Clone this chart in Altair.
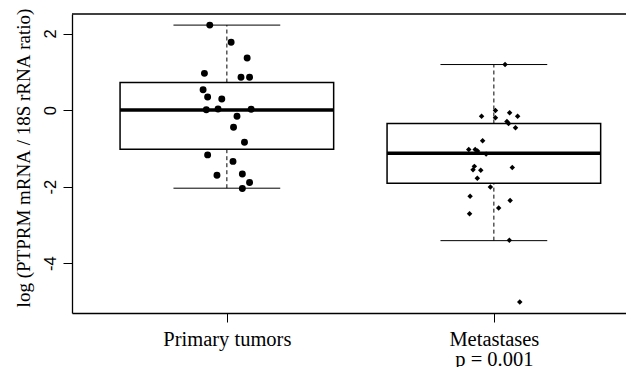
import altair as alt
import pandas as pd

# ---- data ----
groups = ["Primary tumors", "Metastases"]
positions = [1, 2]
lower_whisker = [-2.04, -3.41]
q1 = [-1.02, -1.91]
median = [0.0, -1.13]
q3 = [0.72, -0.35]
upper_whisker = [2.22, 1.19]

primary_values = [2.22, 1.77, 1.36, 0.96, 0.86, 0.86, 0.53, 0.34, 0.29, 0.01, 0.03,
                  0.02, -0.16, -0.45, -0.84, -1.17, -1.34, -1.70, -1.67, -1.89, -2.05]
primary_jitter = [-0.064, 0.016, 0.076, -0.084, 0.053, 0.085, -0.089, -0.072, -0.019,
                  -0.077, -0.033, 0.091, 0.038, 0.025, 0.066, -0.072, 0.023, -0.037,
                  0.058, 0.085, 0.058]

meta_values = [1.19, -0.01, -0.07, -0.16, -0.20, -0.16, -0.30, -0.35, -0.46, -0.80,
               -1.03, -1.03, -1.07, -1.15, -1.47, -1.50, -1.56, -1.57, -1.78, -2.01,
               -2.25, -2.36, -2.56, -2.71, -3.40, -5.01]
meta_jitter = [0.042, 0.006, 0.059, -0.046, 0.006, 0.089, 0.049, 0.055, 0.081, -0.042,
               -0.094, -0.070, -0.061, -0.029, -0.073, 0.069, -0.078, -0.049, -0.062,
               -0.013, -0.089, 0.061, 0.018, -0.091, 0.058, 0.097]

y_ticks = [-4, -2, 0, 2]
y_title = "log (PTPRM mRNA / 18S rRNA ratio)"
p_label = "p = 0.001"

# ---- tables ----
box_df = pd.DataFrame({
    "group": groups, "pos": positions, "lw": lower_whisker, "q1": q1,
    "med": median, "q3": q3, "uw": upper_whisker,
})
pts_df = pd.DataFrame({
    "group": [groups[0]] * len(primary_values) + [groups[1]] * len(meta_values),
    "pos": [positions[0]] * len(primary_values) + [positions[1]] * len(meta_values),
    "jit": primary_jitter + meta_jitter,
    "value": primary_values + meta_values,
})

W, H = 554, 299
xscale = alt.Scale(domain=[0.42, 0.42 + W / 267.0], nice=False, zero=False)
yscale = alt.Scale(domain=[-5.30, 2.51], nice=False, zero=False)

x_axis = alt.Axis(
    values=positions, title=None, grid=False,
    domain=True, domainColor="black", domainWidth=1.3,
    tickColor="black", tickSize=9, tickWidth=1,
    labelExpr=f"datum.value == 1 ? '{groups[0]}' : ['{groups[1]}', '{p_label}']",
    labelFont="Liberation Serif", labelFontSize=20.5, labelColor="black",
    labelPadding=7, labelLineHeight=20, labelBaseline="top", labelAlign="center",
)
y_axis = alt.Axis(
    values=y_ticks, title=None, grid=False,
    domain=True, domainColor="black", domainWidth=1.3,
    tickColor="black", tickSize=9, tickWidth=1,
    labelExpr="'' + datum.value", labelAngle=270, labelAlign="center",
    labelBaseline="alphabetic", labelPadding=8,
    labelFont="Liberation Sans", labelFontSize=16.5, labelColor="black",
)

base = alt.Chart(box_df).transform_calculate(
    x_lo="datum.pos - 0.4", x_hi="datum.pos + 0.4",
    c_lo="datum.pos - 0.2", c_hi="datum.pos + 0.2",
)

box = base.mark_rect(fill="white", stroke="black", strokeWidth=1.5).encode(
    x=alt.X("x_lo:Q", scale=xscale, axis=x_axis), x2="x_hi:Q",
    y=alt.Y("q1:Q", scale=yscale, axis=y_axis), y2="q3:Q",
)
med = base.mark_rule(color="black", strokeWidth=3.5).encode(
    x=alt.X("x_lo:Q", scale=xscale), x2="x_hi:Q", y=alt.Y("med:Q", scale=yscale))
whisk_up = base.mark_rule(color="black", strokeWidth=1, strokeDash=[4, 3]).encode(
    x=alt.X("pos:Q", scale=xscale), y=alt.Y("q3:Q", scale=yscale), y2="uw:Q")
whisk_lo = base.mark_rule(color="black", strokeWidth=1, strokeDash=[4, 3]).encode(
    x=alt.X("pos:Q", scale=xscale), y=alt.Y("lw:Q", scale=yscale), y2="q1:Q")
cap_up = base.mark_rule(color="black", strokeWidth=1).encode(
    x=alt.X("c_lo:Q", scale=xscale), x2="c_hi:Q", y=alt.Y("uw:Q", scale=yscale))
cap_lo = base.mark_rule(color="black", strokeWidth=1).encode(
    x=alt.X("c_lo:Q", scale=xscale), x2="c_hi:Q", y=alt.Y("lw:Q", scale=yscale))

# top edge of the plot frame (right edge lies beyond the picture)
frame_top = alt.Chart(pd.DataFrame({"edge": ["top"]})).mark_rule(
    color="black", strokeWidth=1.3
).encode(x=alt.value(0), x2=alt.value(W), y=alt.value(0))

# y-axis title as a rotated text (non-breaking spaces keep it on one line)
ytitle = alt.Chart(pd.DataFrame({"t": [y_title.replace(" ", "\u00a0")]})).mark_text(
    angle=270, align="center", baseline="alphabetic",
    font="Liberation Serif", fontSize=19, color="black",
).encode(x=alt.value(-42), y=alt.value(144), text="t:N")

points = alt.Chart(pts_df).transform_calculate(
    xp="datum.pos + datum.jit"
).mark_point(filled=True, opacity=1, color="black").encode(
    x=alt.X("xp:Q", scale=xscale),
    y=alt.Y("value:Q", scale=yscale),
    shape=alt.Shape("group:N", scale=alt.Scale(domain=groups, range=["circle", "diamond"]), legend=None),
    size=alt.Size("group:N", scale=alt.Scale(domain=groups, range=[48, 30]), legend=None),
)

chart = alt.layer(box, med, whisk_up, whisk_lo, cap_up, cap_lo, frame_top, ytitle, points).properties(
    width=W, height=H,
    autosize=alt.AutoSizeParams(type="none"),
    padding={"left": 64, "top": 6, "right": 0, "bottom": 54},
    background="white",
).configure_view(stroke=None)

chart.save("out.html", embed_options={"renderer": "svg", "actions": False})
